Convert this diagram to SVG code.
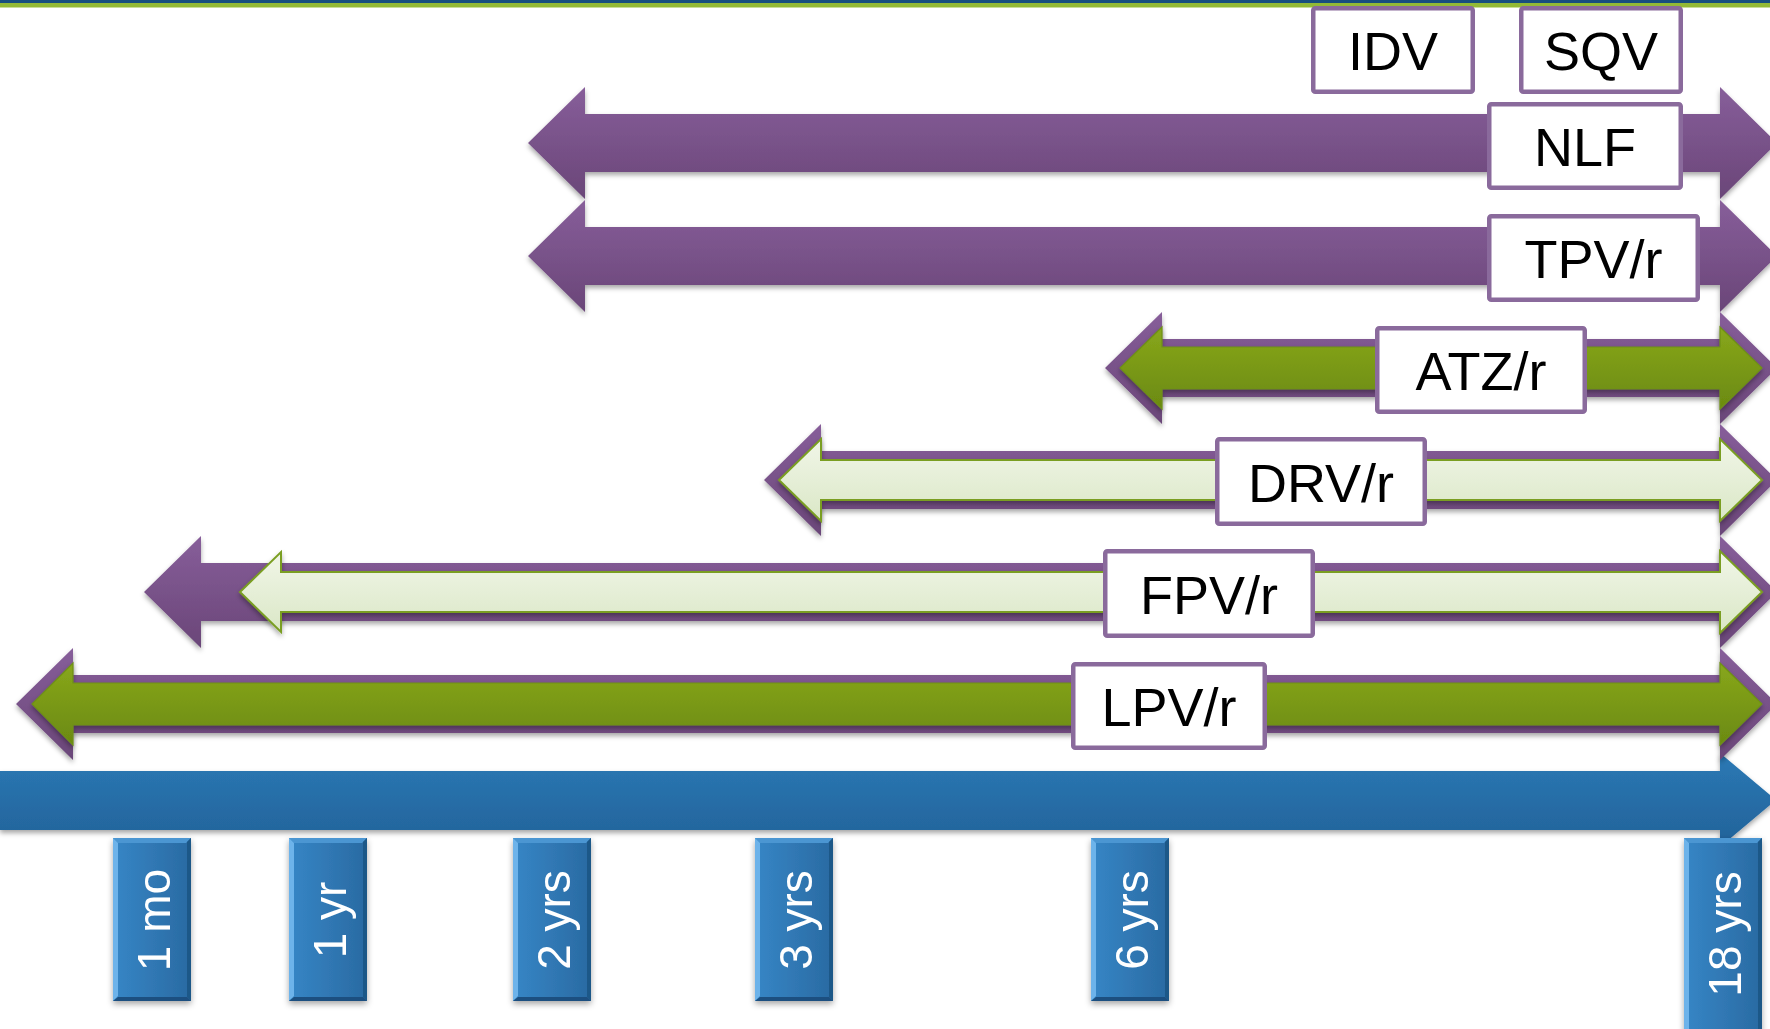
<svg xmlns="http://www.w3.org/2000/svg" width="1770" height="1029" viewBox="0 0 1770 1029">
  <defs>
    <linearGradient id="gPurple" x1="0" y1="0" x2="0" y2="1">
      <stop offset="0" stop-color="#875E9A"/>
      <stop offset="1" stop-color="#6A4678"/>
    </linearGradient>
    <linearGradient id="gGreen" x1="0" y1="0" x2="0" y2="1">
      <stop offset="0" stop-color="#88A71C"/>
      <stop offset="1" stop-color="#6B8A10"/>
    </linearGradient>
    <linearGradient id="gLight" x1="0" y1="0" x2="0" y2="1">
      <stop offset="0" stop-color="#F1F6E8"/>
      <stop offset="1" stop-color="#DAE7C6"/>
    </linearGradient>
    <linearGradient id="gAxis" x1="0" y1="0" x2="0" y2="1">
      <stop offset="0" stop-color="#2B79B5"/>
      <stop offset="1" stop-color="#226299"/>
    </linearGradient>
    <linearGradient id="gTick" x1="0" y1="0" x2="1" y2="0">
      <stop offset="0" stop-color="#3686C6"/>
      <stop offset="1" stop-color="#2A6AA2"/>
    </linearGradient>
    <filter id="shadow" x="-5%" y="-20%" width="110%" height="150%">
      <feDropShadow dx="0" dy="3" stdDeviation="2.5" flood-color="#000" flood-opacity="0.35"/>
    </filter>
    <filter id="tshadow" x="-20%" y="-10%" width="140%" height="125%">
      <feDropShadow dx="0" dy="3" stdDeviation="3" flood-color="#000" flood-opacity="0.35"/>
    </filter>
  </defs>
  <style>
    .outer { fill: url(#gPurple); filter: url(#shadow); }
    .inner-dark { fill: url(#gGreen); stroke: #6E9016; stroke-width: 1.2; filter: url(#shadow); }
    .inner-light { fill: url(#gLight); stroke: #7A9E22; stroke-width: 2; filter: url(#shadow); }
    .box rect { fill: #ffffff; stroke: #8A6A9C; stroke-width: 4.5; }
    .box text { font-family: "Liberation Sans", Arial, sans-serif; font-size: 54px; fill: #000; text-anchor: middle; }
    .tick .body { fill: url(#gTick); }
    .tick .hl { fill: #6DB3EA; }
    .tick .top { fill: #4C96D2; }
    .tick .rt { fill: #1E5888; }
    .tick .bt { fill: #1C5080; }
    .tick text { font-family: "Liberation Sans", Arial, sans-serif; font-size: 46px; fill: #ffffff; text-anchor: middle; }
  </style>

  <rect width="1770" height="1029" fill="#ffffff"/>

  <!-- header rule -->
  <g id="header">
    <rect x="0" y="0" width="1770" height="3" fill="#174E7E"/>
    <rect x="0" y="3" width="1770" height="4.5" fill="#93B935"/>
  </g>

  <!-- timeline axis -->
  <g id="axis">
    <path d="M0,771 L1720,771 L1720,753 L1776,800 L1720,847 L1720,830 L0,830 Z" fill="url(#gAxis)" filter="url(#shadow)"/>
  </g>

  <!-- age range bars -->
  <g id="connectors">
    <g id="bar-nlf">
      <path class="outer" d="M528,143 L585,87 L585,114 L1720,114 L1720,87 L1777,143 L1720,199 L1720,172 L585,172 L585,199 Z"/>
    </g>
    <g id="bar-tpv">
      <path class="outer" d="M528,256 L585,200 L585,227 L1720,227 L1720,200 L1777,256 L1720,312 L1720,285 L585,285 L585,312 Z"/>
    </g>
    <g id="bar-atz">
      <path class="outer" d="M1105,368 L1162,312 L1162,339 L1720,339 L1720,312 L1777,368 L1720,424 L1720,397 L1162,397 L1162,424 Z"/>
      <path class="inner-dark" d="M1120,368 L1162,327 L1162,347 L1720,347 L1720,327 L1762,368 L1720,409 L1720,389 L1162,389 L1162,409 Z"/>
    </g>
    <g id="bar-drv">
      <path class="outer" d="M764,480 L821,424 L821,451 L1720,451 L1720,424 L1777,480 L1720,536 L1720,509 L821,509 L821,536 Z"/>
      <path class="inner-light" d="M779,480 L821,439 L821,460 L1720,460 L1720,439 L1762,480 L1720,521 L1720,500 L821,500 L821,521 Z"/>
    </g>
    <g id="bar-fpv">
      <path class="outer" d="M144,592 L201,536 L201,563 L1720,563 L1720,536 L1777,592 L1720,648 L1720,621 L201,621 L201,648 Z"/>
      <path class="inner-light" d="M240,592 L281,552 L281,572 L1720,572 L1720,551 L1762,592 L1720,633 L1720,612 L281,612 L281,632 Z"/>
    </g>
    <g id="bar-lpv">
      <path class="outer" d="M16,704 L73,648 L73,675 L1720,675 L1720,648 L1777,704 L1720,760 L1720,733 L73,733 L73,760 Z"/>
      <path class="inner-dark" d="M32,704 L73,663 L73,683 L1720,683 L1720,663 L1762,704 L1720,745 L1720,725 L73,725 L73,745 Z"/>
    </g>
  </g>

  <!-- drug labels -->
  <g id="label-idv" class="box">
    <rect x="1313.25" y="8.25" width="159.5" height="83.5" rx="2"/>
    <text x="1393" y="70">IDV</text>
  </g>
  <g id="label-sqv" class="box">
    <rect x="1521.25" y="8.25" width="159.5" height="83.5" rx="2"/>
    <text x="1601" y="70">SQV</text>
  </g>
  <g id="label-nlf" class="box">
    <rect x="1489.25" y="104.25" width="191.5" height="83.5" rx="2"/>
    <text x="1585" y="166">NLF</text>
  </g>
  <g id="label-tpv" class="box">
    <rect x="1489.25" y="216.25" width="208.5" height="83.5" rx="2"/>
    <text x="1593.5" y="278">TPV/r</text>
  </g>
  <g id="label-atz" class="box">
    <rect x="1377.25" y="328.25" width="207.5" height="83.5" rx="2"/>
    <text x="1481" y="390">ATZ/r</text>
  </g>
  <g id="label-drv" class="box">
    <rect x="1217.25" y="439.25" width="207.5" height="84.5" rx="2"/>
    <text x="1321" y="501.5">DRV/r</text>
  </g>
  <g id="label-fpv" class="box">
    <rect x="1105.25" y="551.25" width="207.5" height="84.5" rx="2"/>
    <text x="1209" y="613.5">FPV/r</text>
  </g>
  <g id="label-lpv" class="box">
    <rect x="1073.25" y="664.25" width="191.5" height="83.5" rx="2"/>
    <text x="1169" y="726">LPV/r</text>
  </g>

  <!-- age ticks -->
  <g id="tick-1mo" class="tick" filter="url(#tshadow)">
    <rect class="body" x="113" y="838" width="78" height="163"/>
    <polygon class="top" points="113,838 191,838 186,843 118,843"/>
    <polygon class="hl" points="113,838 118,843 118,996 113,1001"/>
    <polygon class="rt" points="191,838 191,1001 187,997 187,842"/>
    <polygon class="bt" points="113,1001 191,1001 187,997 118,997"/>
    <text transform="translate(170,920) rotate(-90)">1 mo</text>
  </g>
  <g id="tick-1yr" class="tick" filter="url(#tshadow)">
    <rect class="body" x="289" y="838" width="78" height="163"/>
    <polygon class="top" points="289,838 367,838 362,843 294,843"/>
    <polygon class="hl" points="289,838 294,843 294,996 289,1001"/>
    <polygon class="rt" points="367,838 367,1001 363,997 363,842"/>
    <polygon class="bt" points="289,1001 367,1001 363,997 294,997"/>
    <text transform="translate(346,920) rotate(-90)">1 yr</text>
  </g>
  <g id="tick-2yrs" class="tick" filter="url(#tshadow)">
    <rect class="body" x="513" y="838" width="78" height="163"/>
    <polygon class="top" points="513,838 591,838 586,843 518,843"/>
    <polygon class="hl" points="513,838 518,843 518,996 513,1001"/>
    <polygon class="rt" points="591,838 591,1001 587,997 587,842"/>
    <polygon class="bt" points="513,1001 591,1001 587,997 518,997"/>
    <text transform="translate(570,920) rotate(-90)">2 yrs</text>
  </g>
  <g id="tick-3yrs" class="tick" filter="url(#tshadow)">
    <rect class="body" x="755" y="838" width="78" height="163"/>
    <polygon class="top" points="755,838 833,838 828,843 760,843"/>
    <polygon class="hl" points="755,838 760,843 760,996 755,1001"/>
    <polygon class="rt" points="833,838 833,1001 829,997 829,842"/>
    <polygon class="bt" points="755,1001 833,1001 829,997 760,997"/>
    <text transform="translate(812,920) rotate(-90)">3 yrs</text>
  </g>
  <g id="tick-6yrs" class="tick" filter="url(#tshadow)">
    <rect class="body" x="1091" y="838" width="78" height="163"/>
    <polygon class="top" points="1091,838 1169,838 1164,843 1096,843"/>
    <polygon class="hl" points="1091,838 1096,843 1096,996 1091,1001"/>
    <polygon class="rt" points="1169,838 1169,1001 1165,997 1165,842"/>
    <polygon class="bt" points="1091,1001 1169,1001 1165,997 1096,997"/>
    <text transform="translate(1148,920) rotate(-90)">6 yrs</text>
  </g>
  <g id="tick-18yrs" class="tick" filter="url(#tshadow)">
    <rect class="body" x="1684" y="838" width="78" height="196"/>
    <polygon class="top" points="1684,838 1762,838 1757,843 1689,843"/>
    <polygon class="hl" points="1684,838 1689,843 1689,1034 1684,1034"/>
    <polygon class="rt" points="1762,838 1762,1034 1758,1034 1758,842"/>
    <text transform="translate(1741,934) rotate(-90)">18 yrs</text>
  </g>
</svg>
